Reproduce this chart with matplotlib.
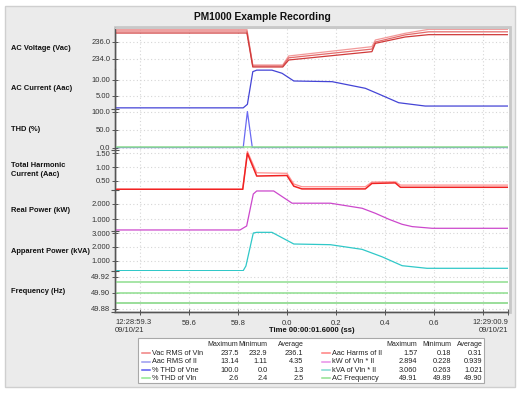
import matplotlib
matplotlib.use("Agg")
import matplotlib.pyplot as plt
from matplotlib.patches import Rectangle
from matplotlib.lines import Line2D
import matplotlib.transforms as mtransforms

plt.rcParams['font.family'] = ['Liberation Sans', 'DejaVu Sans']

W, H = 524, 393

# ---------------- data (time in seconds relative to 12:29:00.0) ----------------
volt_t = [-0.7, -0.163, -0.139, -0.017, 0.007, 0.346, 0.360, 0.481, 0.577, 0.9]
volt_max = [237.52, 237.52, 233.24, 233.24, 234.32, 235.44, 236.24, 237.04, 237.52, 237.52]
volt_avg = [237.32, 237.32, 233.12, 233.12, 234.10, 235.15, 236.00, 236.85, 237.22, 237.22]
volt_min = [237.08, 237.08, 233.00, 233.00, 233.84, 234.84, 235.84, 236.60, 236.88, 236.88]

curr_t = [-0.7, -0.178, -0.161, -0.139, -0.123, -0.061, -0.020, 0.028, 0.184, 0.319, 0.367, 0.455, 0.563, 0.9]
curr_v = [1.11, 1.11, 2.24, 12.65, 13.14, 13.14, 12.14, 9.68, 9.46, 7.35, 5.75, 2.75, 1.69, 1.69]

thd_t = [-0.7, -0.178, -0.161, -0.141, 0.9]
thd_vne = [0.0, 0.0, 100.0, 0.0, 0.0]
thd_vln_t = [-0.7, 0.9]
thd_vln = [2.5, 2.5]

thc_t = [-0.7, -0.180, -0.161, -0.123, 0.000, 0.028, 0.061, 0.319, 0.346, 0.441, 0.462, 0.9]
thc_hi = [0.20, 0.20, 1.57, 0.79, 0.77, 0.38, 0.28, 0.28, 0.45, 0.46, 0.34, 0.34]
thc_lo = [0.18, 0.18, 1.50, 0.67, 0.69, 0.30, 0.20, 0.20, 0.40, 0.42, 0.26, 0.26]

kw_t = [-0.7, -0.191, -0.164, -0.137, -0.123, -0.054, 0.021, 0.177, 0.306, 0.360, 0.415, 0.469, 0.510, 0.591, 0.9]
kw_v = [0.30, 0.30, 0.56, 2.65, 2.85, 2.85, 2.05, 2.05, 1.72, 1.39, 1.00, 0.67, 0.52, 0.41, 0.41]

kva_t = [-0.7, -0.178, -0.167, -0.137, -0.123, -0.061, 0.028, 0.177, 0.306, 0.387, 0.469, 0.570, 0.9]
kva_v = [0.27, 0.27, 0.61, 3.01, 3.06, 3.06, 2.21, 2.16, 1.82, 1.28, 0.63, 0.44, 0.44]

freq_t = [-0.7, 0.9]
freq_max = [49.913, 49.913]
freq_avg = [49.900, 49.900]
freq_min = [49.887, 49.887]

panel_labels = ["AC Voltage (Vac)", "AC Current (Aac)", "THD (%)",
                "Total Harmonic\nCurrent (Aac)", "Real Power (kW)",
                "Apparent Power (kVA)", "Frequency (Hz)"]
panel_ylims = [(232.81, 237.68), (0.70, 13.64), (-6.1, 106.7), (0.150, 1.631),
               (0.242, 2.895), (0.212, 3.168), (49.876, 49.9266)]
panel_yticks = [[234.0, 236.0], [5.0, 10.0], [0.0, 50.0, 100.0], [0.5, 1.0, 1.5],
                [1.0, 2.0], [1.0, 2.0, 3.0], [49.88, 49.90, 49.92]]
panel_yfmt = ["{:.1f}", "{:.2f}", "{:.1f}", "{:.2f}", "{:.3f}", "{:.3f}", "{:.2f}"]

x_ticks = [-0.6, -0.4, -0.2, 0.0, 0.2, 0.4, 0.6, 0.8, 0.9]
x_ticklabels = ["", "59.6", "59.8", "0.0", "0.2", "0.4", "0.6", "", ""]
x_start_label = ["12:28:59.3", "09/10/21"]
x_end_label = ["12:29:00.9", "09/10/21"]

leg_left_names = ["Vac RMS of Vln", "Aac RMS of Il", "% THD of Vne", "% THD of Vln"]
leg_left_colors = ["#f08080", "#9a9af0", "#5a5af0", "#90e890"]
leg_left_max = ["237.5", "13.14", "100.0", "2.6"]
leg_left_min = ["232.9", "1.11", "0.0", "2.4"]
leg_left_avg = ["236.1", "4.35", "1.3", "2.5"]
leg_right_names = ["Aac Harms of Il", "kW of Vln * Il", "kVA of Vln * Il", "AC Frequency"]
leg_right_colors = ["#ff8080", "#e890e8", "#80d8d0", "#90e090"]
leg_right_max = ["1.57", "2.894", "3.060", "49.91"]
leg_right_min = ["0.18", "0.228", "0.263", "49.89"]
leg_right_avg = ["0.31", "0.939", "1.021", "49.90"]

# ---------------- figure ----------------
fig = plt.figure(figsize=(W / 100, H / 100), dpi=100, facecolor="white")

def fx(x):
    return x / W

def fy(y):
    return 1 - y / H

# outer grey frame
fig.patches.append(Rectangle((fx(5), fy(387)), (515 - 5) / W, (387 - 6) / H,
                             transform=fig.transFigure, facecolor="#ebebeb",
                             edgecolor="#cfcfcf", lw=1.0, zorder=-3))
# plot area frame (grey border)
fig.patches.append(Rectangle((fx(115), fy(312)), (510 - 115) / W, (312 - 27) / H,
                             transform=fig.transFigure, facecolor="white",
                             edgecolor="#c8c8c8", lw=2.0, zorder=-2))

L, R, T, B = 115, 508, 28, 312
axes = fig.subplots(7, 1, sharex=True, gridspec_kw=dict(hspace=0))
fig.subplots_adjust(left=fx(L), right=fx(R), top=fy(T), bottom=fy(B))

tick_col = "#555555"
for i, ax in enumerate(axes):
    ax.set_facecolor("none")
    ax.set_xlim(-0.7, 0.9)
    ax.set_ylim(*panel_ylims[i])
    ax.set_yticks(panel_yticks[i])
    ax.set_yticklabels([panel_yfmt[i].format(v) for v in panel_yticks[i]])
    ax.set_xticks(x_ticks)
    ax.grid(True, which="major", linestyle=(0, (1, 2.2)), color="#d6d6d6", lw=0.8)
    for s in ["top", "bottom", "right"]:
        ax.spines[s].set_visible(False)
    ax.spines["left"].set_color(tick_col)
    ax.spines["left"].set_linewidth(0.9)
    ax.tick_params(axis="y", direction="inout", length=4, width=0.7, color=tick_col,
                   labelsize=5.5, labelcolor="#333333", pad=1.5)
    ax.tick_params(axis="x", direction="inout", length=4, width=0.7, color=tick_col,
                   labelsize=5.5, labelcolor="#333333", pad=3.5,
                   labelbottom=False, bottom=False)
    if i > 0:
        ax.set_yticks([panel_ylims[i][0]], minor=True)
        ax.tick_params(axis="y", which="minor", direction="inout", length=6,
                       width=0.8, color=tick_col)
    trans = mtransforms.blended_transform_factory(fig.transFigure, ax.transAxes)
    ax.text(fx(11), 0.5, panel_labels[i], transform=trans, ha="left", va="center",
            fontsize=5.4, fontweight="bold", color="#111111", linespacing=1.25)

axes[0].spines["top"].set_visible(True)
axes[0].spines["top"].set_color("#c8c8c8")
last = axes[-1]
last.spines["bottom"].set_visible(True)
last.spines["bottom"].set_color(tick_col)
last.spines["bottom"].set_linewidth(0.9)
last.tick_params(axis="x", labelbottom=True, bottom=True)
last.set_xticklabels(x_ticklabels)

lw = 0.9
axes[0].plot(volt_t, volt_max, color="#f29a9a", lw=lw)
axes[0].plot(volt_t, volt_avg, color="#e46a6a", lw=lw)
axes[0].plot(volt_t, volt_min, color="#d03a3a", lw=lw)

axes[1].plot(curr_t, curr_v, color="#4444d6", lw=lw)

axes[2].plot(thd_t, thd_vne, color="#6a6af2", lw=lw)
axes[2].plot(thd_vln_t, thd_vln, color="#8ee08e", lw=1.1)

axes[3].plot(thc_t, thc_hi, color="#ff9090", lw=lw)
axes[3].plot(thc_t, thc_lo, color="#f02222", lw=1.1)

axes[4].plot(kw_t, kw_v, color="#cc48cc", lw=lw)
axes[5].plot(kva_t, kva_v, color="#30c8c8", lw=lw)

axes[6].plot(freq_t, freq_max, color="#8ede8e", lw=1.1)
axes[6].plot(freq_t, freq_avg, color="#8ede8e", lw=1.1)
axes[6].plot(freq_t, freq_min, color="#7ed47e", lw=1.1)

# x start / end labels
fig.text(fx(115), fy(322.7), x_start_label[0], ha="left", va="center", fontsize=5.5, color="#333333")
fig.text(fx(115), fy(330.7), x_start_label[1], ha="left", va="center", fontsize=5.5, color="#333333")
fig.text(fx(508.5), fy(322.7), x_end_label[0], ha="right", va="center", fontsize=5.5, color="#333333")
fig.text(fx(508.5), fy(330.7), x_end_label[1], ha="right", va="center", fontsize=5.5, color="#333333")
fig.text(fx(311.5), fy(331), "Time 00:00:01.6000 (ss)", ha="center", va="center",
         fontsize=5.5, fontweight="bold", color="#111111")

# title
fig.text(fx(262), fy(17.5), "PM1000 Example Recording", ha="center", va="center",
         fontsize=7.4, fontweight="bold", color="#111111")

# ---------------- legend table ----------------
fig.patches.append(Rectangle((fx(138), fy(383)), (484 - 138) / W, (383 - 338) / H,
                             transform=fig.transFigure, facecolor="white",
                             edgecolor="#a8a8a8", lw=0.8, zorder=1))
hdr_y = 344.7
row_y = [353.3, 361.8, 370.2, 378.4]
fs = 5.3

def leg_group(line_x0, line_x1, name_x, max_x, min_x, avg_x, names, colors, mx, mn, av):
    for hx, ht in [(max_x, "Maximum"), (min_x, "Minimum"), (avg_x, "Average")]:
        fig.text(fx(hx), fy(hdr_y), ht, ha="right", va="center", fontsize=5.0, color="#222222")
    for k in range(len(names)):
        y = row_y[k]
        fig.lines.append(Line2D([fx(line_x0), fx(line_x1)], [fy(y), fy(y)],
                                transform=fig.transFigure, color=colors[k], lw=1.1))
        fig.text(fx(name_x), fy(y), names[k], ha="left", va="center", fontsize=fs, color="#222222")
        fig.text(fx(max_x), fy(y), mx[k], ha="right", va="center", fontsize=fs, color="#222222")
        fig.text(fx(min_x), fy(y), mn[k], ha="right", va="center", fontsize=fs, color="#222222")
        fig.text(fx(avg_x), fy(y), av[k], ha="right", va="center", fontsize=fs, color="#222222")

leg_group(141.7, 149.5, 152, 238.5, 267.5, 303.5, leg_left_names, leg_left_colors,
          leg_left_max, leg_left_min, leg_left_avg)
leg_group(322, 330.3, 332, 417.5, 451.5, 482.5, leg_right_names, leg_right_colors,
          leg_right_max, leg_right_min, leg_right_avg)

fig.savefig("out.png", dpi=100, facecolor="white")
